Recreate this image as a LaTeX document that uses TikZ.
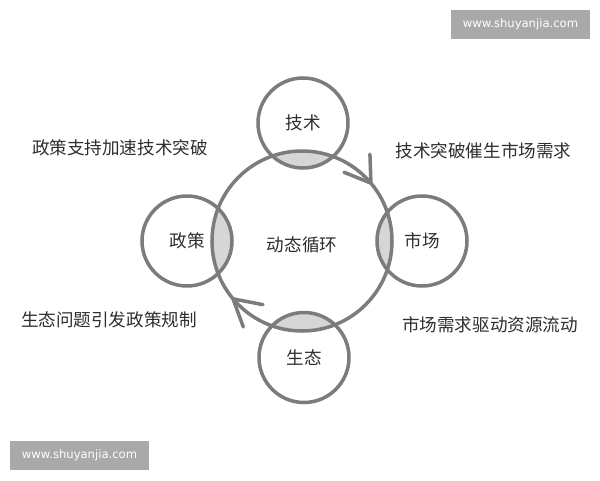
\documentclass[tikz,border=0pt]{standalone}
\usepackage{fontspec}
\setmainfont{Noto Sans CJK SC}
\newfontfamily\wmfont{DejaVu Sans}
\usepackage{xcolor}
\usepackage{tikz}
\usetikzlibrary{positioning, shapes, calc}

\definecolor{ringgray}{HTML}{7C7C7C}
\definecolor{lensgray}{HTML}{D6D6D6}
\definecolor{wmgray}{HTML}{A9A9A9}
\definecolor{txtgray}{HTML}{2E2E2E}

\begin{document}
\begin{tikzpicture}
	\tikzstyle{ring}=[circle, draw=ringgray, line width=2pt, outer sep=0pt, fill=none, text=txtgray, font=\fontsize{10}{12}\selectfont]
	\tikzstyle{bigring}=[ring, minimum size=3.6cm]
	\tikzstyle{smallring}=[ring, minimum size=1.8cm]
	\tikzstyle{lens}=[fill=lensgray]
	\tikzstyle{barb}=[draw=ringgray, line width=2pt, line cap=round]
	\tikzstyle{note}=[text=txtgray, font=\fontsize{10}{12}\selectfont]
	\tikzstyle{wmark}=[fill=wmgray, text=white, font=\wmfont\fontsize{6.6}{8}\selectfont, minimum width=2.78cm, minimum height=0.58cm, inner sep=0pt]
	
	\useasboundingbox (0,0) rectangle (12,9.6);
	
	\coordinate (c0) at (6.04,4.78);
	\coordinate (c1) at (6.06,7.14);
	\coordinate (c2) at (8.44,4.78);
	\coordinate (c3) at (6.08,2.45);
	\coordinate (c4) at (3.74,4.78);
	
	% shaded overlaps
	\begin{scope}
		\clip (c0) circle (1.8);
		\fill[lens] (c1) circle (0.9);
		\fill[lens] (c2) circle (0.9);
		\fill[lens] (c3) circle (0.9);
		\fill[lens] (c4) circle (0.9);
	\end{scope}
	
	\node (cycle) at (c0) [bigring] {};
	\node (cyclelabel) at (6.04,4.7) [note] {动态循环};
	
	\node (tech) at (c1) [smallring] {技术};
	\node (market) at (c2) [smallring] {市场};
	\node (eco) at (c3) [smallring] {生态};
	\node (policy) at (c4) [smallring] {政策};
	
	\draw[barb] (cycle.40) ++(92:0.58) -- (cycle.40) -- +(158:0.58);
	\draw[barb] (cycle.220) ++(-11:0.61) -- (cycle.220) -- +(-70:0.6);
	
	\node (n1) at (2.40,6.64) [note] {政策支持加速技术突破};
	\node (n2) at (9.67,6.58) [note] {技术突破催生市场需求};
	\node (n3) at (2.18,3.20) [note] {生态问题引发政策规制};
	\node (n4) at (9.80,3.10) [note] {市场需求驱动资源流动};
	
	\node (wm1) at (10.41,9.11) [wmark] {www.shuyanjia.com};
	\node (wm2) at (1.59,0.50) [wmark] {www.shuyanjia.com};
\end{tikzpicture}
\end{document}
